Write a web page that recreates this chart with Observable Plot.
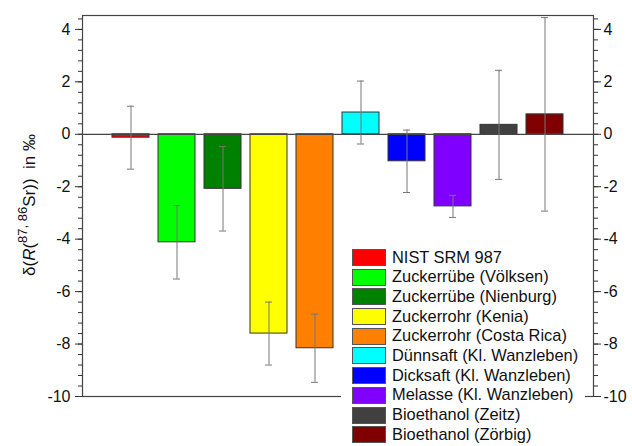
<!DOCTYPE html>
<html>
<head>
<meta charset="utf-8">
<script src="https://cdn.jsdelivr.net/npm/d3@7"></script>
<script src="https://cdn.jsdelivr.net/npm/@observablehq/plot@0.6"></script>
<style>
  html, body { margin: 0; padding: 0; background: #fff; overflow: hidden; }
  #wrap { position: relative; width: 632px; height: 446px; overflow: hidden; font-family: "Liberation Sans", Arial, sans-serif; }
  #legend { position: absolute; left: 341px; top: 247px; width: 244px; height: 199px; background: #fff; }
  .row { height: 19.7px; display: flex; align-items: flex-start; }
  .sw { width: 34px; height: 17px; margin-left: 11px; margin-top: 2px; border: 1px solid #555; box-sizing: border-box; flex: none; }
  .lb { margin-left: 6px; font-size: 16.4px; line-height: 19.7px; color: #111; white-space: nowrap; position: relative; top: 0.5px; }
</style>
</head>
<body>
<div id="wrap"></div>
<script>
const categories = [
  "NIST SRM 987",
  "Zuckerrübe (Völksen)",
  "Zuckerrübe (Nienburg)",
  "Zuckerrohr (Kenia)",
  "Zuckerrohr (Costa Rica)",
  "Dünnsaft (Kl. Wanzleben)",
  "Dicksaft (Kl. Wanzleben)",
  "Melasse (Kl. Wanzleben)",
  "Bioethanol (Zeitz)",
  "Bioethanol (Zörbig)"
];
const values = [-0.13, -4.12, -2.08, -7.60, -8.16, 0.83, -1.03, -2.75, 0.36, 0.76];
const errors = [1.20, 1.40, 1.61, 1.20, 1.30, 1.20, 1.19, 0.42, 2.08, 3.69];
const colors = ["#ff0000", "#00ff00", "#008000", "#ffff00", "#ff8000", "#00ffff", "#0000ff", "#8000ff", "#404040", "#800000"];
const majorTicks = [-10, -8, -6, -4, -2, 0, 2, 4];
const minorTicks = d3.range(0, 37).map(i => Math.round((-10 + i * 0.4) * 10) / 10);

const data = categories.map((c, i) => ({name: c, v: values[i], e: errors[i], color: colors[i]}));

const fnt = "Liberation Sans, Arial, sans-serif";
const plot = Plot.plot({
  width: 632,
  height: 446,
  marginLeft: 82,
  marginRight: 39,
  marginTop: 15,
  marginBottom: 50,
  style: {fontFamily: fnt, fontSize: "16px", color: "#111", background: "transparent"},
  x: {type: "band", domain: categories, paddingInner: 0.2, paddingOuter: 0.6, axis: null},
  y: {domain: [-10, 4.53], axis: null},
  marks: [
    Plot.barY(data, {x: "name", y: "v", fill: "color", stroke: "#333", strokeWidth: 1}),
    Plot.ruleY([0], {stroke: "#444", strokeWidth: 1.2}),
    Plot.ruleX(data, {x: "name", y1: d => d.v - d.e, y2: d => d.v + d.e, stroke: "#777", strokeWidth: 1}),
    Plot.tickY(data, {x: "name", y: d => d.v - d.e, stroke: "#777", strokeWidth: 1, insetLeft: 15, insetRight: 15}),
    Plot.tickY(data, {x: "name", y: d => d.v + d.e, stroke: "#777", strokeWidth: 1, insetLeft: 15, insetRight: 15}),
    Plot.frame({stroke: "#444", strokeWidth: 1.2}),
    Plot.axisY(minorTicks, {anchor: "left", tickSize: 4, text: null, stroke: "#333", label: null}),
    Plot.axisY(majorTicks, {anchor: "left", tickSize: 7, tickPadding: 5, tickFormat: d => String(d), stroke: "#333", fill: "#111", fontSize: 16, label: null}),
    Plot.axisY(minorTicks, {anchor: "right", tickSize: 4, text: null, stroke: "#333", label: null}),
    Plot.axisY(majorTicks, {anchor: "right", tickSize: 7, tickPadding: 3, tickFormat: d => String(d), stroke: "#333", fill: "#111", fontSize: 16, label: null})
  ]
});

const wrap = document.getElementById("wrap");
wrap.appendChild(plot);

// y-axis title with italic R and superscript
const svg = d3.select(plot);
const t = svg.append("text")
  .attr("transform", "translate(35,205) rotate(-90)")
  .attr("text-anchor", "middle")
  .attr("font-family", fnt)
  .attr("font-size", 17)
  .attr("fill", "#111");
t.append("tspan").text("δ(");
t.append("tspan").attr("font-style", "italic").text("R");
t.append("tspan").text("(");
t.append("tspan").attr("dy", -8).attr("font-size", 13).text("87, 86");
t.append("tspan").attr("dy", 8).text("Sr))  in ‰");

// legend
const legend = document.createElement("div");
legend.id = "legend";
categories.forEach((c, i) => {
  const row = document.createElement("div");
  row.className = "row";
  const sw = document.createElement("div");
  sw.className = "sw";
  sw.style.background = colors[i];
  const lb = document.createElement("div");
  lb.className = "lb";
  lb.textContent = c;
  row.appendChild(sw);
  row.appendChild(lb);
  legend.appendChild(row);
});
wrap.appendChild(legend);
</script>
</body>
</html>
